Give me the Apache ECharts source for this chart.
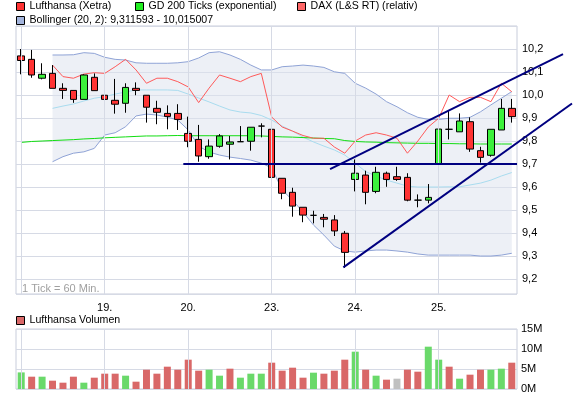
<!DOCTYPE html>
<html>
<head>
<meta charset="utf-8">
<script src="https://cdn.jsdelivr.net/npm/echarts@6/dist/echarts.min.js"></script>
<style>
html, body { margin: 0; padding: 0; background: #fff; }
#chart { width: 574px; height: 397px; }
</style>
</head>
<body>
<div id="chart"></div>
<script>
// Stundenkerzen, 8 pro Handelstag (18. bis 25.)
const dayLabels = ['18.', '19.', '20.', '23.', '24.', '25.'];
const hoursPerDay = 8;

const candleOpen = [10.170, 10.155, 10.073, 10.094, 10.029, 10.020, 9.981, 10.077,
  9.999, 9.977, 9.964, 10.029, 9.999, 9.942, 9.920, 9.920,
  9.833, 9.807, 9.732, 9.777, 9.786, 9.797, 9.799, 9.865,
  9.851, 9.638, 9.577, 9.512, 9.477, 9.468, 9.457, 9.399,
  9.633, 9.652, 9.581, 9.660, 9.645, 9.642, 9.543, 9.543,
  9.700, 9.851, 9.840, 9.884, 9.758, 9.738, 9.848, 9.942];
const candleClose = [10.150, 10.087, 10.090, 10.029, 10.020, 9.981, 10.087, 10.019,
  9.981, 9.960, 10.033, 10.020, 9.947, 9.925, 9.907, 9.894,
  9.799, 9.735, 9.778, 9.822, 9.796, 9.797, 9.860, 9.865,
  9.642, 9.573, 9.517, 9.478, 9.477, 9.460, 9.409, 9.316,
  9.660, 9.577, 9.664, 9.633, 9.633, 9.543, 9.543, 9.555,
  9.852, 9.851, 9.887, 9.765, 9.729, 9.851, 9.942, 9.906];
const candleLow = [10.090, 10.075, 10.068, 10.029, 9.983, 9.966, 9.981, 10.019,
  9.949, 9.919, 9.923, 9.999, 9.880, 9.873, 9.851, 9.848,
  9.773, 9.710, 9.723, 9.771, 9.720, 9.797, 9.758, 9.816,
  9.606, 9.547, 9.471, 9.447, 9.442, 9.425, 9.387, 9.249,
  9.581, 9.525, 9.573, 9.601, 9.627, 9.538, 9.512, 9.529,
  9.700, 9.807, 9.840, 9.753, 9.706, 9.732, 9.848, 9.880];
const candleHigh = [10.200, 10.196, 10.138, 10.130, 10.051, 10.020, 10.090, 10.094,
  10.091, 10.070, 10.051, 10.055, 9.999, 9.975, 9.955, 9.960,
  9.906, 9.870, 9.807, 9.830, 9.822, 9.865, 9.860, 9.877,
  9.851, 9.638, 9.597, 9.512, 9.497, 9.483, 9.478, 9.409,
  9.720, 9.671, 9.688, 9.667, 9.688, 9.660, 9.568, 9.613,
  9.852, 9.932, 9.920, 9.903, 9.775, 9.851, 9.983, 9.983];

const gd200 = [9.794, 9.798, 9.800, 9.802, 9.804, 9.806, 9.809, 9.811,
  9.814, 9.816, 9.818, 9.820, 9.822, 9.822, 9.823, 9.824,
  9.823, 9.823, 9.823, 9.823, 9.823, 9.823, 9.823, 9.822,
  9.820, 9.818, 9.817, 9.815, 9.813, 9.811, 9.810, 9.802,
  9.798, 9.796, 9.795, 9.793, 9.792, 9.791, 9.790, 9.790,
  9.789, 9.789, 9.788, 9.788, 9.787, 9.787, 9.787, 9.787];

const daxRel = [null, null, null, 10.130, 10.080, 10.073, 10.091, 10.097,
  10.094, 10.123, 10.155, 10.109, 10.051, 10.073, 10.073, 10.058,
  10.035, 9.967, 10.030, 10.087, 10.073, 10.058, 10.080, 10.094,
  9.904, 9.861, 9.843, 9.824, 9.812, 9.812, 9.774, 9.747,
  9.800, 9.826, 9.836, 9.826, 9.812, 9.747, 9.800, 9.861,
  9.899, 10.000, 9.971, 9.990, 9.990, 9.971, 10.051, 10.014];

const bbUpper = [null, null, null, 10.174, 10.174, 10.175, 10.184, 10.181,
  10.164, 10.155, 10.152, 10.140, 10.138, 10.138, 10.138, 10.140,
  10.145, 10.161, 10.184, 10.188, 10.174, 10.155, 10.130, 10.109,
  10.109, 10.123, 10.126, 10.130, 10.126, 10.120, 10.101, 10.094,
  10.051, 10.030, 10.004, 9.971, 9.949, 9.923, 9.903, 9.894,
  9.894, 9.899, 9.899, 9.903, 9.927, 9.957, 9.986, 10.015];
const bbMiddle = [null, null, null, 9.942, 9.952, 9.961, 9.974, 9.986,
  9.993, 10.004, 10.013, 10.022, 10.022, 10.022, 10.022, 10.020,
  10.004, 9.987, 9.970, 9.952, 9.935, 9.926, 9.922, 9.911,
  9.891, 9.865, 9.843, 9.817, 9.796, 9.778, 9.761, 9.739,
  9.704, 9.667, 9.648, 9.630, 9.617, 9.604, 9.600, 9.600,
  9.600, 9.601, 9.601, 9.609, 9.617, 9.630, 9.648, 9.663];
const bbLower = [null, null, null, 9.710, 9.732, 9.747, 9.753, 9.768,
  9.826, 9.836, 9.862, 9.909, 9.917, 9.913, 9.904, 9.891,
  9.848, 9.778, 9.752, 9.739, 9.730, 9.724, 9.717, 9.704,
  9.683, 9.587, 9.543, 9.491, 9.435, 9.391, 9.343, 9.322,
  9.317, 9.322, 9.326, 9.326, 9.322, 9.317, 9.309, 9.304,
  9.304, 9.304, 9.304, 9.304, 9.300, 9.300, 9.304, 9.312];

// Volumen in Mio. Stück, Richtung: 1 = steigend, -1 = fallend, 0 = unverändert
const volume = [4.15, 3.08, 3.08, 2.08, 1.58, 3.08, 1.58, 2.83,
  3.83, 3.83, 3.33, 1.83, 4.83, 3.83, 5.58, 4.83,
  7.33, 4.58, 4.83, 3.33, 5.08, 2.83, 3.83, 3.83,
  6.58, 4.58, 5.33, 2.83, 4.08, 3.83, 4.58, 7.33,
  9.33, 4.83, 3.33, 2.33, 2.58, 4.83, 4.33, 10.58,
  7.33, 5.58, 2.58, 3.58, 4.83, 4.83, 5.08, 6.58];
const volDir = [1, -1, 1, -1, -1, -1, 1, -1,
  -1, -1, 1, -1, -1, -1, -1, -1,
  -1, -1, 1, 1, -1, 1, 1, 1,
  -1, -1, -1, -1, 1, -1, -1, -1,
  1, -1, 1, -1, 0, -1, -1, 1,
  1, -1, 1, -1, -1, 1, 1, -1];

// Trendlinien [Kerzen-Index, Kurs]
const trendLines = [
  [[15.53, 9.7], [47.5, 9.7]],
  [[29.59, 9.678], [51.91, 10.178]],
  [[30.86, 9.251], [52.77, 9.963]]
];

const bollName = 'Bollinger (20, 2): 9,311593 - 10,015007';
const fontFam = '"Liberation Sans", Arial, sans-serif';
const gridColor = '#d6dae5';

const categories = candleOpen.map((v, i) => dayLabels[Math.floor(i / hoursPerDay)]);
const candleData = candleOpen.map((o, i) => [o, candleClose[i], candleLow[i], candleHigh[i]]);
const bandData = bbUpper.map((u, i) => u == null ? null : +(u - bbLower[i]).toFixed(4));
const volColors = { '1': '#6ad96a', '-1': '#d96868', '0': '#c0c0c0' };
const dayLines = categories.map((c, i) => i).filter(i => i % hoursPerDay === 0).map(i => ({ xAxis: i }));

function legendItem(name, color, left, top) {
    return {
        left: left, top: top, padding: 0, selectedMode: false,
        itemWidth: 8, itemHeight: 8,
        textStyle: { fontSize: 10.6, fontFamily: fontFam, color: '#000' },
        data: [{ name: name, icon: 'rect', itemStyle: { color: color, borderColor: '#000', borderWidth: 1 } }]
    };
}

const chart = echarts.init(document.getElementById('chart'));

const option = {
    animation: false,
    backgroundColor: '#fff',
    textStyle: { fontFamily: fontFam },
    legend: [
        legendItem('Lufthansa (Xetra)', '#ff3333', 16, 1),
        legendItem('GD 200 Ticks (exponential)', '#22ee22', 135, 1),
        legendItem('DAX (L&S RT) (relativ)', '#ff6666', 297, 1),
        legendItem(bollName, '#a3b4dc', 16, 15),
        legendItem('Lufthansa Volumen', '#d96868', 16, 315)
    ],
    graphic: [{
        id: 'tickNote', type: 'text', left: 22, top: 283,
        style: { text: '1 Tick = 60 Min.', fill: '#a0a0a0', font: '11px ' + fontFam }
    }],
    grid: [
        { left: 16, top: 26, width: 501, height: 268, show: true, borderColor: '#c8cddb', backgroundColor: '#fff' },
        { left: 16, top: 329, width: 501, height: 60, show: true, borderColor: '#c8cddb', backgroundColor: '#fff' }
    ],
    xAxis: [
        {
            type: 'category', gridIndex: 0, data: categories, boundaryGap: true,
            axisLine: { show: false }, axisTick: { show: false }, splitLine: { show: false },
            axisLabel: {
                interval: 0, margin: 8, fontSize: 11, color: '#000',
                formatter: (v, i) => (i % hoursPerDay === 0 && i > 0) ? v : ''
            }
        },
        {
            type: 'category', gridIndex: 1, data: categories, boundaryGap: true,
            axisLine: { show: false }, axisTick: { show: false }, axisLabel: { show: false }, splitLine: { show: false }
        },
        { type: 'value', gridIndex: 0, min: -0.5, max: 47.5, show: false, splitLine: { show: false } }
    ],
    yAxis: [
        {
            type: 'value', gridIndex: 0, position: 'right', min: 9.135, max: 10.3, splitNumber: 12,
            axisLine: { show: false }, axisTick: { show: false },
            axisLabel: {
                margin: 5, fontSize: 11, color: '#000', showMinLabel: false, showMaxLabel: false,
                formatter: v => v.toFixed(1).replace('.', ',')
            },
            splitLine: { lineStyle: { color: gridColor } }
        },
        {
            type: 'value', gridIndex: 1, position: 'right', min: 0, max: 15, interval: 5,
            axisLine: { show: false }, axisTick: { show: false },
            axisLabel: { margin: 4, fontSize: 11, color: '#000', formatter: v => v + 'M' },
            splitLine: { lineStyle: { color: gridColor } }
        }
    ],
    series: [
        {
            name: 'bbLower', type: 'line', stack: 'bb', data: bbLower, symbol: 'none', z: 1,
            lineStyle: { color: '#8fa3d6', width: 1 },
            markLine: {
                silent: true, symbol: 'none', label: { show: false },
                lineStyle: { color: gridColor, type: 'solid', width: 1 },
                data: dayLines
            }
        },
        {
            name: bollName, type: 'line', stack: 'bb', data: bandData, symbol: 'none', z: 1,
            lineStyle: { color: '#8fa3d6', width: 1 },
            areaStyle: { color: '#dfe4ef', opacity: 0.55 }
        },
        {
            name: 'bbMiddle', type: 'line', data: bbMiddle, symbol: 'none', z: 1,
            lineStyle: { color: '#a9dcef', width: 1 }
        },
        {
            name: 'GD 200 Ticks (exponential)', type: 'line', data: gd200, symbol: 'none', z: 2,
            lineStyle: { color: '#11dd11', width: 1 }
        },
        {
            name: 'DAX (L&S RT) (relativ)', type: 'line', data: daxRel, symbol: 'none', z: 2,
            lineStyle: { color: '#ff5a5a', width: 1 }
        },
        {
            name: 'Lufthansa (Xetra)', type: 'candlestick', data: candleData, barWidth: 7, z: 3,
            itemStyle: {
                color: '#3cf03c', color0: '#ff3333',
                borderColor: '#000', borderColor0: '#000', borderWidth: 1
            }
        },
        {
            name: 'Lufthansa Volumen', type: 'bar', xAxisIndex: 1, yAxisIndex: 1, barWidth: 7,
            data: volume.map((v, i) => ({ value: v, itemStyle: { color: volColors[String(volDir[i])] } })),
            markLine: {
                silent: true, symbol: 'none', label: { show: false },
                lineStyle: { color: gridColor, type: 'solid', width: 1 },
                data: dayLines
            }
        }
    ]
};

chart.setOption(option);

// Trendlinien reichen über den Plotbereich hinaus: über die Achsen in Pixel umrechnen
const trendGraphics = trendLines.map((pts, k) => {
    const a = chart.convertToPixel({ xAxisIndex: 2, yAxisIndex: 0 }, pts[0]);
    const b = chart.convertToPixel({ xAxisIndex: 2, yAxisIndex: 0 }, pts[1]);
    return {
        id: 'trend' + k, type: 'line', z: 50,
        shape: { x1: a[0], y1: a[1], x2: b[0], y2: b[1] },
        style: { stroke: '#000080', lineWidth: 2 }
    };
});
chart.setOption({ graphic: trendGraphics });
</script>
</body>
</html>
